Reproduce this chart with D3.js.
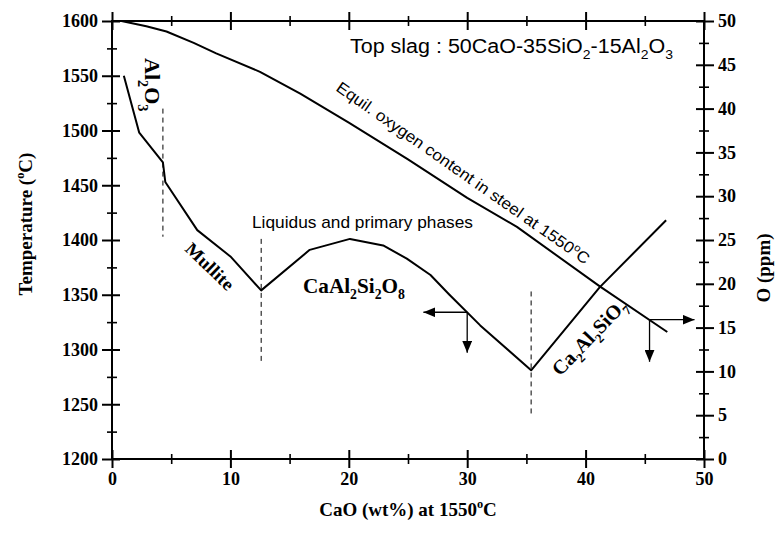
<!DOCTYPE html>
<html>
<head>
<meta charset="utf-8">
<script src="https://cdn.jsdelivr.net/npm/d3@7"></script>
<style>
  body { margin: 0; background: #fff; }
  svg { display: block; }
</style>
</head>
<body>
<svg id="chart" width="775" height="534"></svg>
<script>
// tick values
const caoTicks = [0, 10, 20, 30, 40, 50];
const caoMinor = [5, 15, 25, 35, 45];
const tempTicks = [1200, 1250, 1300, 1350, 1400, 1450, 1500, 1550, 1600];
const tempMinor = [1225, 1275, 1325, 1375, 1425, 1475, 1525, 1575];
const ppmTicks = [0, 5, 10, 15, 20, 25, 30, 35, 40, 45, 50];
const ppmMinor = [2.5, 7.5, 12.5, 17.5, 22.5, 27.5, 32.5, 37.5, 42.5, 47.5];

// liquidus (left axis, deg C)
const liqCaO  = [1, 2.3, 4.3, 4.5, 7.2, 10, 12.6, 16.7, 20.1, 22.9, 24.9, 26.9, 28.5, 31.1, 35.4, 41.2, 46.8];
const liqTemp = [1550, 1498, 1471, 1453, 1409, 1385, 1354, 1391, 1401, 1395, 1383, 1368, 1350, 1322, 1281, 1357, 1418];

// equilibrium oxygen in steel (right axis, ppm)
const oxCaO = [0.8, 2.9, 4.6, 6.9, 8.8, 12.5, 15.9, 20, 25, 30, 34.2, 41.2, 46.9];
const oxPpm = [50, 49.4, 48.8, 47.5, 46.3, 44.2, 41.7, 38.4, 34.2, 29.8, 26.5, 19.7, 14.5];

// phase boundaries (dashed)
const phaseCaO = [4.3, 12.6, 35.4];
const phaseTop = [1520, 1401, 1353];
const phaseBottom = [1403, 1288, 1239];

// arrows: [corner CaO, corner value, horizontal tip CaO, vertical tip value]
const arrowTemp = [30, 1334, 26.3, 1297];
const arrowPpm = [45.4, 15.9, 49.2, 11.1];

const W = 775, H = 534;
const margin = {top: 21, right: 71, bottom: 75, left: 112};
const width = W - margin.left - margin.right;
const height = H - margin.top - margin.bottom;

const serif = '"Liberation Serif", "Times New Roman", serif';
const sans = '"Liberation Sans", Arial, sans-serif';

const svg = d3.select('#chart');

const x = d3.scaleLinear().domain([0, 50]).range([0, width]);
const yT = d3.scaleLinear().domain([1200, 1600]).range([height, 0]);
const yO = d3.scaleLinear().domain([0, 50]).range([height, 0]);

// arrow head
svg.append('defs').append('marker')
    .attr('id', 'head')
    .attr('viewBox', '0 0 12 10')
    .attr('refX', 12).attr('refY', 5)
    .attr('markerWidth', 12).attr('markerHeight', 10)
    .attr('markerUnits', 'userSpaceOnUse')
    .attr('orient', 'auto')
    .append('path').attr('d', 'M0,0L12,5L0,10Z').attr('fill', '#000');

const g = svg.append('g')
    .attr('transform', `translate(${margin.left},${margin.top})`);

// axes: every tick crosses the frame, so draw an outer and inner axis for each side
function axis(gen, tx, ty, values, size, labels) {
    const a = g.append('g')
        .attr('transform', `translate(${tx},${ty})`)
        .call(gen.tickValues(values).tickSize(size).tickPadding(4)
            .tickFormat(labels ? d3.format('d') : ''));
    a.select('.domain').remove();
    a.selectAll('.tick line').attr('stroke-width', size > 6 ? 2 : 1.6);
    a.attr('font-family', serif).attr('font-size', 18).attr('font-weight', 'bold');
    return a;
}

axis(d3.axisLeft(yT), 0, 0, tempTicks, 10, true);
axis(d3.axisRight(yT), 0, 0, tempTicks, 8, false);
axis(d3.axisLeft(yT), 0, 0, tempMinor, 5, false);
axis(d3.axisRight(yT), 0, 0, tempMinor, 5, false);

axis(d3.axisRight(yO), width, 0, ppmTicks, 10, true);
axis(d3.axisLeft(yO), width, 0, ppmTicks, 8, false);
axis(d3.axisRight(yO), width, 0, ppmMinor, 5, false);
axis(d3.axisLeft(yO), width, 0, ppmMinor, 5, false);

axis(d3.axisBottom(x), 0, height, caoTicks, 9, true);
axis(d3.axisTop(x), 0, height, caoTicks, 9, false);
axis(d3.axisBottom(x), 0, height, caoMinor, 5, false);
axis(d3.axisTop(x), 0, height, caoMinor, 5, false);

axis(d3.axisTop(x), 0, 0, caoTicks, 9, false);
axis(d3.axisBottom(x), 0, 0, caoTicks, 9, false);
axis(d3.axisTop(x), 0, 0, caoMinor, 5, false);
axis(d3.axisBottom(x), 0, 0, caoMinor, 5, false);

g.append('rect')
    .attr('width', width).attr('height', height)
    .attr('fill', 'none').attr('stroke', '#000').attr('stroke-width', 2);

// curves
const liq = liqCaO.map((c, i) => [c, liqTemp[i]]);
const ox = oxCaO.map((c, i) => [c, oxPpm[i]]);

g.append('path')
    .attr('d', d3.line().x(d => x(d[0])).y(d => yT(d[1]))(liq))
    .attr('fill', 'none').attr('stroke', '#000').attr('stroke-width', 2)
    .attr('stroke-linejoin', 'round');

g.append('path')
    .attr('d', d3.line().x(d => x(d[0])).y(d => yO(d[1]))(ox))
    .attr('fill', 'none').attr('stroke', '#000').attr('stroke-width', 2)
    .attr('stroke-linejoin', 'round');

g.selectAll('.phase')
    .data(phaseCaO)
    .enter().append('line')
    .attr('class', 'phase')
    .attr('x1', d => x(d)).attr('x2', d => x(d))
    .attr('y1', (d, i) => yT(phaseTop[i]))
    .attr('y2', (d, i) => yT(phaseBottom[i]))
    .attr('stroke', '#000').attr('stroke-width', 1)
    .attr('stroke-dasharray', '5,4');

function arrows(a, y) {
    const cx = x(a[0]), cy = y(a[1]);
    g.append('line')
        .attr('x1', cx).attr('y1', cy).attr('x2', x(a[2])).attr('y2', cy)
        .attr('stroke', '#000').attr('stroke-width', 1.3).attr('marker-end', 'url(#head)');
    g.append('line')
        .attr('x1', cx).attr('y1', cy).attr('x2', cx).attr('y2', y(a[3]))
        .attr('stroke', '#000').attr('stroke-width', 1.3).attr('marker-end', 'url(#head)');
}
arrows(arrowTemp, yT);
arrows(arrowPpm, yO);

// text with sub/superscripts: parts = [[text, 'sub'|'sup'|null], ...]
function rich(tx, ty, parts, size, font, opts = {}) {
    const t = svg.append('text')
        .attr('transform', `translate(${tx},${ty}) rotate(${opts.rotate || 0})`)
        .attr('font-family', font).attr('font-size', size)
        .attr('font-weight', font === serif ? 'bold' : 'normal')
        .attr('text-anchor', opts.anchor || 'start');
    let shift = 0;
    parts.forEach(([s, k]) => {
        const target = k === 'sub' ? size * 0.3 : k === 'sup' ? -size * 0.4 : 0;
        t.append('tspan')
            .attr('dy', target - shift)
            .attr('font-size', k ? size * 0.65 : size)
            .text(s);
        shift = target;
    });
    if (opts.length) t.attr('textLength', opts.length).attr('lengthAdjust', 'spacingAndGlyphs');
    return t;
}

// axis titles
rich(32, 224, [['Temperature ('], ['o', 'sup'], ['C)']], 19, serif, {rotate: -90, anchor: 'middle'});
rich(770, 268, [['O (ppm)']], 19, serif, {rotate: -90, anchor: 'middle'});
rich(408, 516, [['CaO (wt%) at 1550'], ['o', 'sup'], ['C']], 19, serif, {anchor: 'middle'});

// annotations
rich(350, 53, [['Top slag : 50CaO-35SiO'], ['2', 'sub'], ['-15Al'], ['2', 'sub'], ['O'], ['3', 'sub']], 20, sans, {length: 323});
rich(335, 90, [['Equil. oxygen content in steel at 1550'], ['o', 'sup'], ['C']], 16, sans, {rotate: 35, length: 305});
rich(252, 228, [['Liquidus and primary phases']], 17, sans, {length: 221});
rich(145, 58, [['Al'], ['2', 'sub'], ['O'], ['3', 'sub']], 22, serif, {rotate: 90});
rich(184, 250, [['Mullite']], 18, serif, {rotate: 44, length: 60});
rich(303, 293, [['CaAl'], ['2', 'sub'], ['Si'], ['2', 'sub'], ['O'], ['8', 'sub']], 21, serif, {length: 102});
rich(560, 377, [['Ca'], ['2', 'sub'], ['Al'], ['2', 'sub'], ['SiO'], ['7', 'sub']], 20, serif, {rotate: -46, length: 98});
</script>
</body>
</html>
